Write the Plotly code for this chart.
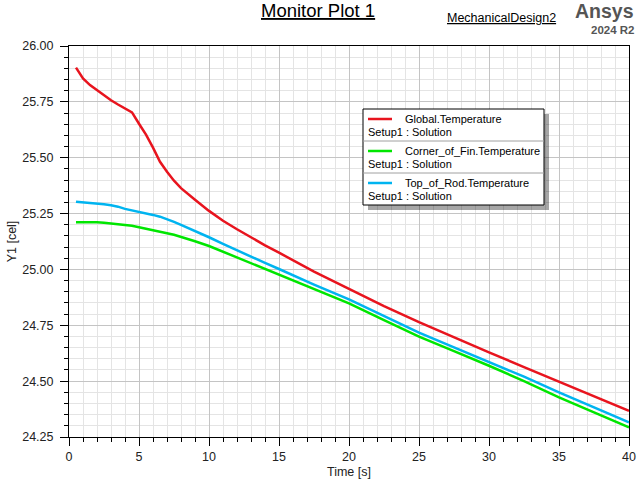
import plotly.graph_objects as go

# ---------------- data ----------------
time_s = [0.5, 1, 1.5, 2, 2.5, 3, 3.5, 4, 4.5, 5, 5.5, 6, 6.5, 7, 7.5, 8, 8.5, 9,
          10, 11, 12, 13, 14, 15, 17.5, 20, 22.5, 25, 27.5, 30, 32.5, 35, 37.5, 40]

global_temp = [25.903, 25.855, 25.825, 25.802, 25.779, 25.757, 25.738, 25.721, 25.703,
               25.652, 25.603, 25.545, 25.482, 25.437, 25.397, 25.364, 25.336, 25.312,
               25.262, 25.218, 25.180, 25.143, 25.108, 25.075, 24.990, 24.913, 24.836,
               24.764, 24.695, 24.629, 24.563, 24.497, 24.432, 24.367]

top_of_rod = [25.303, 25.301, 25.299, 25.296, 25.292, 25.287, 25.281, 25.271, 25.265,
              25.258, 25.252, 25.244, 25.236, 25.225, 25.213, 25.199, 25.186, 25.172,
              25.144, 25.114, 25.085, 25.057, 25.029, 25.002, 24.932, 24.866, 24.790,
              24.717, 24.651, 24.587, 24.520, 24.450, 24.383, 24.316]

corner_of_fin = [25.211, 25.212, 25.212, 25.211, 25.209, 25.206, 25.203, 25.199, 25.195,
                 25.189, 25.183, 25.176, 25.169, 25.162, 25.155, 25.146, 25.136, 25.126,
                 25.105, 25.079, 25.053, 25.027, 25.002, 24.978, 24.912, 24.848, 24.773,
                 24.699, 24.634, 24.569, 24.500, 24.427, 24.360, 24.293]

series_names = ["Global.Temperature", "Corner_of_Fin.Temperature", "Top_of_Rod.Temperature"]
series_values = [global_temp, corner_of_fin, top_of_rod]
series_colors = ["#e8141e", "#00e600", "#00b4f0"]
solution_label = "Setup1 : Solution"

x_ticks = [0, 5, 10, 15, 20, 25, 30, 35, 40]
y_ticks = [24.25, 24.50, 24.75, 25.00, 25.25, 25.50, 25.75, 26.00]

FONT = "Liberation Sans, Arial, sans-serif"
W, H = 640, 480
L, R, T, B = 69, 629, 46, 437


def px(x):
    return (x - L) / (R - L)


def py(y):
    return (B - y) / (B - T)


fig = go.Figure()
for name, vals, col in zip(series_names, series_values, series_colors):
    fig.add_trace(go.Scatter(x=time_s, y=vals, mode="lines", name=name,
                             line=dict(color=col, width=2.5), showlegend=False))

axis_common = dict(
    showline=True, linecolor="black", linewidth=1, mirror=True,
    ticks="outside", ticklen=8, tickcolor="black", tickwidth=1,
    showgrid=True, gridcolor="#c4c4c4", gridwidth=1, zeroline=False,
    automargin=False,
    tickfont=dict(family=FONT, size=12.5, color="#222"),
)

fig.update_xaxes(range=[0, 40], tickvals=x_ticks,
                 minor=dict(dtick=1, ticks="outside", ticklen=4, tickcolor="black",
                            showgrid=True, gridcolor="#e4e4e4", gridwidth=1),
                 title=dict(text="Time [s]", font=dict(family=FONT, size=12.5, color="#222"), standoff=4),
                 **axis_common)
fig.update_yaxes(range=[24.25, 26.0], tickvals=y_ticks, tickformat=".2f",
                 ticklabelstandoff=4,
                 minor=dict(dtick=0.05, tick0=24.25, ticks="outside", ticklen=4, tickcolor="black",
                            showgrid=True, gridcolor="#e4e4e4", gridwidth=1),
                 title=dict(text="Y1 [cel]", font=dict(family=FONT, size=12.5, color="#222"), standoff=2),
                 **axis_common)

annotations = [
    dict(text="<u>Monitor Plot 1</u>", x=px(318), y=py(11), xref="paper", yref="paper",
         showarrow=False, font=dict(family=FONT, size=18.5, color="black"),
         xanchor="center", yanchor="middle"),
    dict(text="<u>MechanicalDesign2</u>", x=px(501), y=py(18), xref="paper", yref="paper",
         showarrow=False, font=dict(family=FONT, size=12.5, color="black"),
         xanchor="center", yanchor="middle"),
    dict(text="<b>Ansys</b>", x=px(636), y=py(11), xref="paper", yref="paper",
         showarrow=False, font=dict(family=FONT, size=19.5, color="#555555"),
         xanchor="right", yanchor="middle"),
    dict(text="<b>2024 R2</b>", x=px(636), y=py(30), xref="paper", yref="paper",
         showarrow=False, font=dict(family=FONT, size=11.5, color="#555555"),
         xanchor="right", yanchor="middle"),
]

# custom legend box
bx0, bx1, by0, by1 = 363, 544, 109, 205
shapes = [
    dict(type="rect", xref="paper", yref="paper", x0=px(bx0 + 5), x1=px(bx1 + 5),
         y0=py(by1 + 5), y1=py(by0 + 5), fillcolor="rgba(0,0,0,0.35)", line=dict(width=0),
         layer="above"),
    dict(type="rect", xref="paper", yref="paper", x0=px(bx0), x1=px(bx1),
         y0=py(by1), y1=py(by0), fillcolor="white", line=dict(color="black", width=1),
         layer="above"),
]
row_h = 32
for i, (name, col) in enumerate(zip(series_names, series_colors)):
    yl = 119 + i * row_h
    shapes.append(dict(type="line", xref="paper", yref="paper", x0=px(368), x1=px(392),
                       y0=py(yl), y1=py(yl), line=dict(color=col, width=2.5), layer="above"))
    annotations.append(dict(text=name, x=px(403), y=py(yl), xref="paper", yref="paper",
                            showarrow=False, font=dict(family=FONT, size=11, color="black"),
                            xanchor="left", yanchor="middle"))
    annotations.append(dict(text=solution_label, x=px(366), y=py(yl + 13), xref="paper",
                            yref="paper", showarrow=False,
                            font=dict(family=FONT, size=11, color="black"),
                            xanchor="left", yanchor="middle"))
    if i < 2:
        ys = yl + 22
        shapes.append(dict(type="line", xref="paper", yref="paper", x0=px(bx0), x1=px(bx1),
                           y0=py(ys), y1=py(ys), line=dict(color="#a0a0a0", width=1),
                           layer="above"))

fig.update_layout(
    width=W, height=H,
    margin=dict(l=L, r=W - R, t=T, b=H - B),
    paper_bgcolor="white", plot_bgcolor="white",
    showlegend=False,
    annotations=annotations, shapes=shapes,
    font=dict(family=FONT),
)

fig.write_html("out.html")
